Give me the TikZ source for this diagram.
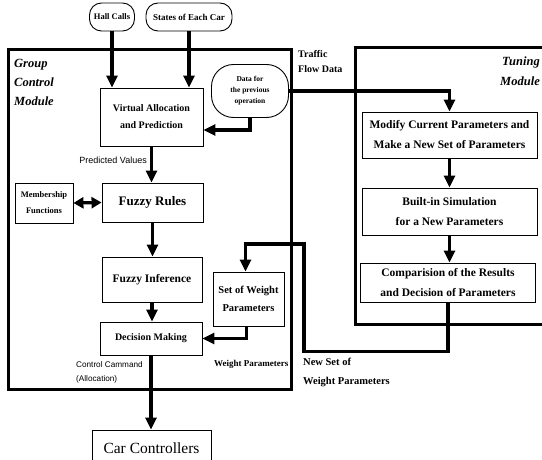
\documentclass[tikz,border=0pt]{standalone}
\usepackage{fontspec}
\setmainfont{Liberation Serif}
\setsansfont{Liberation Sans}
\usepackage{tikz}
\usetikzlibrary{arrows.meta}

\newcommand\fsz[2]{\fontsize{#1}{#2}\selectfont}

\begin{document}
\begin{tikzpicture}[x=1pt,y=-1pt,
  box/.style={draw,line width=.9pt,align=center,inner sep=0pt,font=\bfseries\fsz{11.5}{20}},
  oval/.style={box,rounded corners=12pt},
  flow/.style={line width=3.2pt,-{Triangle[width=11pt,length=12pt]}},
  module/.style={line width=3pt},
  tag/.style={inner sep=0pt,align=left,font=\bfseries\fsz{9}{19}}]
\useasboundingbox (0,0) rectangle (542,460);
\clip (0,0) rectangle (542,460);

% the two modules
\draw[module] (8,50) rectangle (291,389);
\draw[module] (545,48) -- (355,48) -- (355,324) -- (545,324);
\node[tag,anchor=north west,font=\bfseries\itshape\fsz{12.5}{19}] (gcm) at (14,59) {Group\\Control\\Module};
\node[tag,anchor=north east,align=right,font=\bfseries\itshape\fsz{12.5}{20}] (tm) at (540,57) {Tuning\\Module};

% inputs
\node[oval,minimum width=45,minimum height=28,font=\bfseries\fsz{8.5}{9}] (hall) at (112,17) {Hall Calls};
\node[oval,minimum width=86,minimum height=28,font=\bfseries\fsz{9}{9}] (states) at (189,17) {States of Each Car};
\node[oval,rounded corners=22pt,minimum width=77,minimum height=53,font=\bfseries\fsz{7.5}{11}] (data) at (250,91) {Data for\\the previous\\operation};

% group control module
\node[box,minimum width=103,minimum height=58,font=\bfseries\fsz{10}{17}] (virtual) at (151.5,117) {Virtual Allocation\\and Prediction};
\node[box,minimum width=101,minimum height=39,font=\bfseries\fsz{13}{14}] (rules) at (152.5,202.5) {Fuzzy Rules};
\node[box,minimum width=58,minimum height=40,font=\bfseries\fsz{8.5}{16}] (member) at (44,203) {Membership\\Functions};
\node[box,minimum width=100,minimum height=45,font=\bfseries\fsz{11.5}{14}] (infer) at (152,279.5) {Fuzzy Inference};
\node[box,minimum width=71,minimum height=54,font=\bfseries\fsz{10.5}{18}] (weight) at (248.5,299) {Set of Weight\\Parameters};
\node[box,minimum width=102,minimum height=33,font=\bfseries\fsz{10}{12}] (decide) at (151,338.5) {Decision Making};
\node[box,minimum width=119,minimum height=36,font=\fsz{15.5}{16}] (car) at (151.5,448) {Car Controllers};

% tuning module
\node[box,minimum width=175,minimum height=46] (modify) at (449.5,135) {Modify Current Parameters and\\Make a New Set of Parameters};
\node[box,minimum width=175,minimum height=47] (simul) at (449.5,211.5) {Built-in Simulation\\for a New Parameters};
\node[box,minimum width=175,minimum height=39] (compare) at (448,282.5) {Comparision of the Results\\and Decision of Parameters};

% labels
\node[tag,anchor=north west,font=\bfseries\fsz{10}{15}] (traffic) at (298,50) {Traffic\\Flow Data};
\node[tag,anchor=east,font=\sffamily\fsz{9}{10}] (predicted) at (147,160) {Predicted Values};
\node[tag,anchor=north west,font=\sffamily\fsz{8.2}{14}] (command) at (76,361) {Control Cammand\\(Allocation)};
\node[tag,anchor=west,font=\bfseries\fsz{9}{10}] (wlabel) at (214,364) {Weight Parameters};
\node[tag,anchor=north west,font=\bfseries\fsz{10.5}{19}] (newset) at (303,358) {New Set of\\Weight Parameters};

% connectors
\draw[flow] (hall.south) -- (hall.south |- virtual.north);
\draw[flow] (states.south) -- (states.south |- virtual.north);
\draw[flow] (data.south) |- ([yshift=-13pt]virtual.east);
\draw[flow] (data.east) -| (modify.north);
\draw[flow] (virtual.south) -- (virtual.south |- rules.north);
\draw[line width=3.2pt,{Triangle[width=11pt,length=10pt]}-{Triangle[width=11pt,length=10pt]}] (member.east) -- (rules.west);
\draw[flow] (rules.south) -- (rules.south |- infer.north);
\draw[flow] (infer.south) -- (infer.south |- decide.north);
\draw[flow] ([xshift=-2pt]weight.south) |- (decide.east);
\draw[flow] (decide.south) -- (decide.south |- car.north);
\draw[flow] (modify.south) -- (modify.south |- simul.north);
\draw[flow] (simul.south) -- (simul.south |- compare.north);
\coordinate (back) at (304,244);
\draw[flow] (compare.south) -- ++(0,49) -| (back) -| ([xshift=-3pt]weight.north);

\end{tikzpicture}
\end{document}
